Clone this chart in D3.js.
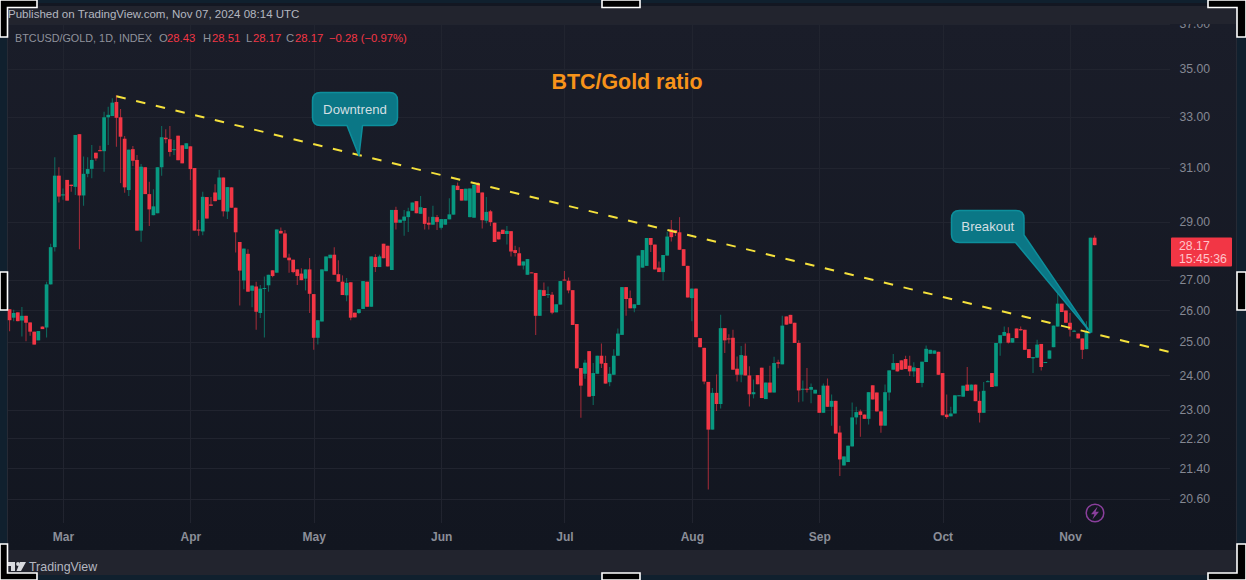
<!DOCTYPE html>
<html>
<head>
<meta charset="utf-8">
<title>BTC/Gold ratio</title>
<script src="https://cdnjs.cloudflare.com/ajax/libs/d3/7.8.5/d3.min.js"></script>
<style>
html,body{margin:0;padding:0;background:#0f1b28;overflow:hidden}
svg{display:block}
text{font-family:"Liberation Sans",Arial,sans-serif}
</style>
</head>
<body>
<svg id="c" width="1246" height="580"></svg>
<script>
const firstDay = "2024-02-17";
const opens = [
26.03,25.76,25.93,25.67,25.82,25.61,25.32,25.05,25.48,25.45,
26.84,28.10,30.69,29.95,30.53,30.35,30.27,32.30,29.95,30.76,
30.95,31.57,31.67,31.63,32.98,33.03,33.61,32.98,32.12,30.15,
31.71,31.29,28.68,31.01,30.00,29.23,29.30,31.01,32.16,32.10,
31.67,32.24,31.86,31.72,31.82,30.98,28.72,28.65,29.89,29.62,
30.06,29.79,30.62,29.36,30.25,29.50,28.28,26.97,27.87,26.63,
26.77,25.91,26.70,26.81,27.31,27.23,28.67,28.58,27.74,27.67,
27.34,27.20,27.03,27.34,26.52,25.13,25.64,27.28,27.72,27.84,
27.18,26.93,26.48,26.91,25.92,25.91,26.04,26.93,26.11,27.76,
27.42,28.22,28.15,27.32,29.42,28.96,29.03,29.16,29.39,29.74,
29.28,29.49,28.96,28.89,29.16,28.78,28.89,29.08,29.25,30.31,
30.19,29.76,29.16,29.14,30.39,30.06,29.03,29.37,28.96,28.64,
28.71,28.56,28.66,28.00,27.89,27.47,27.16,27.24,27.22,25.82,
26.65,26.49,26.50,25.93,26.18,27.00,26.96,26.65,25.56,24.21,
24.04,24.72,23.39,24.04,24.58,24.36,23.79,24.01,24.58,25.22,
26.75,26.39,26.06,26.17,27.40,27.46,28.42,28.19,27.40,27.25,
27.81,28.72,28.70,28.62,28.03,27.46,26.39,26.70,25.12,24.82,
23.80,22.44,23.48,23.16,25.43,25.11,25.13,24.19,24.01,24.58,
23.99,23.44,24.00,24.22,23.30,23.78,23.49,24.38,24.32,25.80,
25.85,25.60,24.97,23.58,23.60,23.57,23.46,23.42,22.91,23.69,
23.08,23.25,22.36,21.47,21.56,21.98,22.78,22.95,22.86,22.74,
23.70,23.49,22.95,22.55,23.49,24.16,24.36,24.44,24.48,24.28,
24.11,24.21,23.77,24.39,24.64,24.64,24.70,24.06,22.86,22.81,
22.89,23.39,23.37,23.72,23.55,23.72,23.25,22.91,23.80,24.06,
23.67,24.96,25.19,25.27,24.98,25.42,25.40,25.38,24.78,24.50,
24.52,24.94,24.36,24.49,24.84,25.48,26.21,25.99,25.60,25.32,
25.26,25.11,24.78,25.29,28.43];
const highs = [
26.03,26.01,25.93,26.10,25.82,25.61,25.32,25.34,25.48,26.93,
28.22,31.39,31.01,30.21,30.53,30.35,32.27,32.30,31.42,31.39,
31.87,31.57,31.84,33.21,33.41,33.76,33.90,33.32,32.23,31.69,
31.83,31.48,31.13,31.01,30.46,30.18,31.01,32.63,32.50,32.63,
32.07,32.24,31.86,31.94,31.82,30.98,29.06,30.09,29.89,29.89,
30.37,30.91,30.62,30.26,30.25,29.50,28.28,28.05,28.03,26.80,
26.93,26.82,27.10,27.16,27.31,28.72,28.79,28.70,27.87,27.67,
27.34,27.38,27.34,27.73,26.52,25.68,27.34,27.78,27.84,28.10,
27.65,27.14,27.05,26.91,25.92,26.03,26.95,26.93,27.78,27.86,
27.84,28.22,28.15,29.42,29.54,29.07,29.42,29.50,29.69,29.74,
29.93,29.49,29.17,29.57,29.24,29.09,29.09,29.85,30.33,30.43,
30.19,30.20,30.21,30.35,30.45,30.06,29.89,29.42,28.96,28.64,
28.71,28.84,28.66,28.15,28.10,27.61,27.69,27.24,27.22,26.66,
26.90,26.77,26.59,26.19,26.95,27.29,27.07,26.65,25.56,24.21,
24.46,24.72,24.36,24.58,24.95,24.58,24.24,24.78,25.42,26.75,
26.75,26.64,26.19,27.81,28.00,28.42,28.42,28.19,27.61,27.83,
28.64,29.06,28.70,29.16,28.03,27.46,26.70,26.70,25.12,24.82,
23.80,23.62,24.02,25.85,25.43,25.24,25.38,24.56,24.88,24.95,
24.26,23.87,24.00,24.22,23.78,24.28,24.55,24.46,25.82,25.80,
25.85,25.60,25.05,23.84,24.21,23.75,23.57,23.42,23.75,23.90,
23.43,23.25,22.55,21.71,22.00,23.20,23.08,23.00,22.86,23.50,
23.70,23.49,22.95,23.72,24.14,24.63,24.36,24.44,24.58,24.58,
24.38,24.21,24.40,24.89,24.76,24.74,24.70,24.06,23.43,23.08,
23.41,23.41,23.69,24.24,23.72,23.72,23.52,23.80,23.85,24.06,
24.97,25.21,25.48,25.46,25.12,25.42,25.48,25.38,24.78,24.54,
25.07,24.94,24.39,24.74,25.51,26.55,26.21,25.99,25.91,25.38,
25.26,25.11,25.65,28.43,28.51];
const lows = [
25.33,25.65,25.65,25.17,25.02,25.19,24.92,25.05,25.40,25.14,
26.84,27.95,29.69,29.79,29.76,30.09,29.97,28.03,29.57,30.63,
30.59,31.26,31.63,30.84,31.87,33.03,31.80,30.41,30.05,29.93,
31.06,28.68,28.29,30.00,28.84,29.23,29.30,30.69,31.94,31.42,
31.48,31.28,31.16,31.72,30.53,28.68,28.50,28.52,29.11,29.57,
29.74,29.79,29.18,29.09,29.50,27.92,26.15,26.68,26.60,26.09,
25.38,25.75,25.14,26.60,27.08,27.23,28.58,27.74,27.23,27.21,
26.82,26.98,26.64,25.91,24.76,24.92,25.64,27.28,27.72,27.16,
26.93,26.49,26.29,25.68,25.77,25.88,26.04,26.11,26.11,27.25,
27.42,27.72,27.44,27.32,28.72,28.96,28.50,28.63,29.39,29.30,
29.28,28.72,28.72,28.89,28.70,28.72,28.89,29.08,29.25,30.15,
29.76,29.76,29.16,29.14,30.05,28.75,28.94,28.84,28.28,28.37,
28.56,28.19,27.78,27.78,27.47,27.34,27.16,27.22,25.22,25.82,
26.46,26.39,25.87,25.93,26.18,26.97,26.55,25.53,24.20,22.77,
23.89,23.37,23.13,24.04,24.21,23.75,23.67,24.01,24.58,25.22,
25.82,26.06,25.93,26.17,27.40,27.46,27.93,27.34,27.25,26.97,
27.81,28.30,28.49,28.01,27.46,26.41,25.65,25.15,24.84,23.73,
20.84,22.44,22.96,23.03,24.66,24.95,24.16,23.81,23.79,23.99,
23.09,23.32,23.73,23.33,23.30,23.49,23.49,24.20,24.32,25.54,
25.57,24.97,23.21,23.23,23.49,23.18,23.46,22.91,22.91,23.08,
22.55,22.33,21.19,21.47,21.56,21.98,22.58,22.24,22.74,22.58,
23.29,22.95,22.35,22.55,23.26,24.16,24.11,24.16,24.18,23.97,
23.95,23.77,23.64,24.39,24.64,24.64,24.01,22.84,22.74,22.81,
22.89,23.39,23.37,23.54,23.55,23.24,22.64,22.91,23.80,23.65,
23.67,24.58,25.19,24.95,24.98,25.12,25.36,24.76,24.51,24.06,
24.52,24.14,24.36,24.49,24.84,25.48,25.94,25.60,25.17,25.32,
25.11,24.48,24.78,25.29,28.17];
const closes = [
25.68,25.91,25.65,25.82,25.60,25.32,24.92,25.34,25.40,26.84,
28.10,30.69,29.91,29.99,29.76,30.30,32.27,29.95,30.76,30.94,
31.29,31.35,31.63,32.98,33.08,33.58,32.96,32.20,30.25,31.69,
31.26,28.68,31.03,30.00,29.44,29.55,31.01,32.18,32.10,31.60,
31.71,31.28,31.16,31.94,30.94,28.68,28.68,29.90,29.11,29.57,
29.74,30.62,29.37,30.26,29.50,28.62,27.30,28.05,26.60,26.80,
25.95,26.70,26.72,27.16,27.12,28.72,28.58,27.74,27.65,27.25,
27.12,26.98,27.34,26.53,25.13,25.68,27.34,27.78,27.84,27.16,
26.93,26.49,26.89,25.76,25.77,26.03,26.95,26.11,27.78,27.42,
27.78,27.72,27.44,29.42,28.96,29.07,29.18,29.37,29.69,29.30,
29.52,28.92,28.89,29.17,28.99,29.09,29.09,29.26,30.33,30.15,
29.76,30.20,30.21,30.35,30.05,29.05,29.35,28.98,28.28,28.37,
28.56,28.67,27.95,27.90,27.47,27.61,27.69,27.22,25.82,26.66,
26.46,26.52,25.92,26.19,26.95,26.97,26.64,25.53,24.20,23.69,
24.37,23.37,24.06,24.58,24.34,23.75,24.04,24.58,25.26,26.75,
26.36,26.06,26.19,27.81,28.00,28.42,28.18,27.34,27.25,27.83,
28.47,28.45,28.60,28.01,27.46,26.41,26.70,25.15,24.84,23.81,
22.44,23.48,23.16,25.43,25.05,25.09,24.16,24.01,24.60,23.99,
23.44,23.50,23.73,23.33,23.78,23.49,24.36,24.34,25.51,25.54,
25.57,24.97,23.55,23.60,23.58,23.65,23.57,22.91,23.69,23.08,
23.25,22.33,21.63,21.71,22.00,22.78,22.93,22.85,22.74,23.50,
23.29,22.95,22.55,23.50,24.14,24.36,24.11,24.16,24.18,24.11,
24.23,23.77,24.40,24.79,24.76,24.74,24.01,22.84,22.79,22.89,
23.41,23.41,23.69,23.54,23.72,23.24,22.91,23.54,23.82,23.65,
24.97,25.21,25.31,24.98,25.12,25.12,25.36,24.76,24.51,24.54,
24.92,24.24,24.39,24.74,25.51,26.21,25.94,25.60,25.38,25.35,
25.11,24.76,25.31,28.43,28.17];
const priceTicks = [37,35,33,31,29,27,26,25,24,23,22.2,21.4,20.6];
const monthTicks = ["2024-03-01","2024-04-01","2024-05-01","2024-06-01","2024-07-01","2024-08-01","2024-09-01","2024-10-01","2024-11-01"];
const trendStart = {date:"2024-03-14", price:33.85};
const trendEnd = {date:"2024-11-25", price:24.70};
const downtrendTip = {date:"2024-05-12", price:31.45};
const breakoutTip = {date:"2024-11-06", price:25.29};
const lastPrice = 28.17, countdown = "15:45:36";

const W=1246,H=580;
const svg=d3.select("#c");
const parse=d3.utcParse("%Y-%m-%d");
const day0=parse(firstDay);
const dates=opens.map((_,i)=>d3.utcDay.offset(day0,i));
const x=d3.scaleUtc().domain([parse("2024-03-01"),parse("2024-11-01")]).range([63,1070]);
const y=d3.scaleLog().domain([20.6,37]).range([499,24]);
const up="#089981",dn="#f23645";

const defs=svg.append("defs");
const g=defs.append("linearGradient").attr("id","pane").attr("x1",0).attr("y1",0).attr("x2",0).attr("y2",1);
g.append("stop").attr("offset",0).attr("stop-color","#1a1d29");
g.append("stop").attr("offset",1).attr("stop-color","#121620");

svg.append("rect").attr("width",W).attr("height",H).attr("fill","#10202e");
svg.append("rect").attr("x",7).attr("y",3).attr("width",1230).attr("height",572).attr("fill","#131722");
svg.append("rect").attr("x",7).attr("y",24).attr("width",1230).attr("height",526).attr("fill","url(#pane)");
svg.append("line").attr("x1",7.5).attr("x2",7.5).attr("y1",24).attr("y2",550).attr("stroke","#262a35");
svg.append("line").attr("x1",1236.5).attr("x2",1236.5).attr("y1",24).attr("y2",550).attr("stroke","#262a35");

// grid
const grid=svg.append("g").attr("stroke","#21242f").attr("stroke-width",1);
grid.selectAll(".h").data(priceTicks).join("line")
  .attr("x1",8).attr("x2",1170)
  .attr("y1",d=>Math.round(y(d))+.5).attr("y2",d=>Math.round(y(d))+.5);
grid.selectAll(".v").data(monthTicks).join("line")
  .attr("y1",24).attr("y2",523)
  .attr("x1",d=>Math.round(x(parse(d)))+.5).attr("x2",d=>Math.round(x(parse(d)))+.5);

// axes
const yAxis=d3.axisRight(y).tickValues(priceTicks).tickFormat(d3.format(".2f")).tickSize(0).tickPadding(0);
const ya=svg.append("g").attr("transform","translate(1179.5,0)").call(yAxis);
ya.select(".domain").remove();
ya.selectAll("text").attr("fill","#858893").attr("font-size",12.2).attr("font-family","Liberation Sans");
const xAxis=d3.axisBottom(x).tickValues(monthTicks.map(parse)).tickFormat(d3.utcFormat("%b")).tickSize(0).tickPadding(0);
const xa=svg.append("g").attr("transform","translate(0,532)").call(xAxis);
xa.select(".domain").remove();
xa.selectAll("text").attr("fill","#8b8e98").attr("font-size",12).attr("font-weight","bold").attr("font-family","Liberation Sans");

// candles
const idx=d3.range(opens.length);
const color=i=>closes[i]>=opens[i]?up:dn;
const candle=svg.append("g");
candle.selectAll(".w").data(idx).join("line")
  .attr("x1",i=>x(dates[i])).attr("x2",i=>x(dates[i]))
  .attr("y1",i=>y(highs[i])).attr("y2",i=>y(lows[i]))
  .attr("stroke",color).attr("stroke-width",1.1).attr("stroke-opacity",.6);
candle.selectAll(".b").data(idx).join("rect")
  .attr("x",i=>x(dates[i])-1.85).attr("width",3.7)
  .attr("y",i=>Math.min(y(opens[i]),y(closes[i])))
  .attr("height",i=>Math.max(1,Math.abs(y(opens[i])-y(closes[i]))))
  .attr("fill",color);

// trendline
svg.append("line")
  .attr("x1",x(parse(trendStart.date))).attr("y1",y(trendStart.price))
  .attr("x2",x(parse(trendEnd.date))).attr("y2",y(trendEnd.price))
  .attr("stroke","#f5e13c").attr("stroke-width",2).attr("stroke-dasharray","9.5,10.75");

// callouts
function callout(left,top,w,h,tail,tip,label){
  const [a,b]=tail, r=8;
  const px=x(parse(tip.date)),py=y(tip.price);
  let p=`M${left+r},${top}H${left+w-r}Q${left+w},${top} ${left+w},${top+r}`;
  if(a[0]===left+w){ // tail leaves the right side
    p+=`V${a[1]}L${px},${py}L${b[0]},${b[1]}H${left+r}`;
  }else{
    p+=`V${top+h-r}Q${left+w},${top+h} ${left+w-r},${top+h}H${b[0]}L${px},${py}L${a[0]},${a[1]}H${left+r}`;
  }
  p+=`Q${left},${top+h} ${left},${top+h-r}V${top+r}Q${left},${top} ${left+r},${top}Z`;
  svg.append("path").attr("d",p).attr("fill","#0b7786").attr("stroke","#0d8f9c").attr("stroke-width",1.5).attr("stroke-linejoin","round");
  svg.append("text").attr("x",left+w/2).attr("y",top+h/2+4.6).attr("text-anchor","middle")
    .attr("fill","#d4dfe2").attr("font-size",13.2).text(label);
}
callout(312.5,92.5,85,33,[[347,125.5],[362.5,125.5]],downtrendTip,"Downtrend");
callout(951.5,210.5,72.5,32,[[1024,235],[1015.5,242.5]],breakoutTip,"Breakout");

// title
svg.append("text").attr("x",627).attr("y",88.5).attr("text-anchor","middle")
  .attr("fill","#f7931a").attr("font-size",21.4).attr("font-weight","bold").text("BTC/Gold ratio");

// legend
const legend=[["O",159,"#8f929c"],["28.43",167,dn],["H",203,"#8f929c"],["28.51",212,dn],["L",246,"#8f929c"],["28.17",253,dn],["C",286,"#8f929c"],["28.17",295,dn],["\u22120.28 (\u22120.97%)",329,dn]];
svg.append("g").selectAll("text").data(legend).join("text")
  .attr("x",d=>d[1]).attr("y",42).attr("fill",d=>d[2]).attr("font-size",11.3).text(d=>d[0]);
svg.append("text").attr("x",15).attr("y",42).attr("fill","#8f929c").attr("font-size",11)
  .attr("textLength",137).attr("lengthAdjust","spacingAndGlyphs").text("BTCUSD/GOLD, 1D, INDEX");

// price label
svg.append("rect").attr("x",1171).attr("y",237.5).attr("width",61).attr("height",29).attr("rx",1).attr("fill",dn);
svg.append("text").attr("x",1179).attr("y",249.5).attr("fill","#ffc4ca").attr("font-size",12.3).text(d3.format(".2f")(lastPrice));
svg.append("text").attr("x",1179).attr("y",263).attr("fill","#ffc4ca").attr("font-size",12.3).text(countdown);

// lightning icon
const bolt=svg.append("g").attr("transform","translate(1095,513)");
bolt.append("circle").attr("r",8.8).attr("fill","none").attr("stroke","#8a3f9c").attr("stroke-width",1.5);
bolt.append("path").attr("d","M2.6,-6.5L-4,1.2H-0.6L-2.6,6.5L4,-1.2H0.6Z").attr("fill","#8a3f9c");

// top and bottom strips
svg.append("rect").attr("x",7).attr("y",6).attr("width",1230).attr("height",18).attr("fill","#22242e");
svg.append("rect").attr("x",7).attr("y",550).attr("width",1230).attr("height",25).attr("fill","#22242e");
svg.append("text").attr("x",8).attr("y",17.5).attr("fill","#b4b7c0").attr("font-size",11.54).text("Published on TradingView.com, Nov 07, 2024 08:14 UTC");
svg.append("text").attr("x",29).attr("y",571).attr("fill","#b4b7c0").attr("font-size",12.4).text("TradingView");
svg.append("path").attr("d","M7,562H15V571H11V566H7ZM20,562H26L21,571H16.5Z").attr("fill","#d9dbe0");
svg.append("circle").attr("cx",18).attr("cy",564).attr("r",1.9).attr("fill","#d9dbe0");

// crop handles
const hs=[
 "M0,0H37V7.5H7.5V37H0Z",
 "M602,0H640V7.5H602Z",
 `M1208,0H${W}V37H1237V7.5H1208Z`,
 `M0,272H7.5V310H0Z`,
 `M${W},272H1237V310H${W}Z`,
 `M0,${H}V544H7.5V573H37V${H}Z`,
 `M602,${H}V573H640V${H}Z`,
 `M${W},${H}V544H1237V573H1208V${H}Z`
];
svg.append("g").selectAll("path").data(hs).join("path").attr("d",d=>d)
  .attr("fill","#000").attr("stroke","#fff").attr("stroke-width",1.6);
</script>
</body>
</html>
